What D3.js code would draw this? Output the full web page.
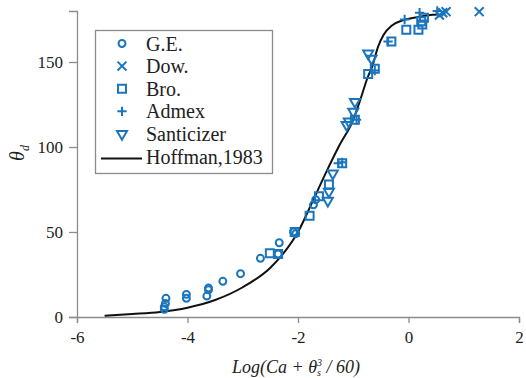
<!DOCTYPE html>
<html>
<head>
<meta charset="utf-8">
<script src="https://cdn.jsdelivr.net/npm/d3@7"></script>
<style>
  body { margin: 0; background: #fff; }
  svg { display: block; font-family: "Liberation Serif", "Times New Roman", serif; }
  svg text { font-family: "Liberation Serif", "Times New Roman", serif; }
</style>
</head>
<body>
<div id="chart"></div>
<script>
// data
const geX = [-4.42, -4.42, -4.40, -4.39, -4.02, -4.02, -3.65, -3.62, -3.62, -3.36, -3.04, -2.68, -2.34, -2.36, -2.04, -2.08, -1.72, -1.68];
const geY = [4.5, 6, 8, 11, 11, 13.3, 12.3, 16, 17, 21, 25.5, 34.5, 43.7, 37, 49, 50, 66, 69];

const dowX = [0.56, 0.62, 0.68, 1.28];
const dowY = [177.6, 179, 179.6, 179.6];

const broX = [-2.51, -2.36, -2.06, -1.79, -1.62, -1.44, -1.20, -0.97, -0.73, -0.61, -0.31, -0.04, 0.18, 0.23, 0.28, 0.25];
const broY = [37.5, 37, 50, 59.6, 71, 78, 90.4, 116, 143, 146, 162, 169, 169, 174, 176, 172];

const admX = [-1.27, -1.20, -0.94, -0.61, -0.37, -0.07, 0.20, 0.52];
const admY = [90.4, 91, 116, 145, 162, 175, 179, 180];

const sanX = [-1.46, -1.44, -1.37, -1.12, -1.08, -1.00, -0.97, -0.73, -0.67];
const sanY = [68.4, 73.7, 84.5, 113, 115, 120.8, 126.6, 155, 152];

const hoffX = [-5.5, -5.0, -4.5, -4.0, -3.5, -3.0, -2.5, -2.25, -2.0, -1.75, -1.5, -1.25, -1.0, -0.85, -0.75, -0.65, -0.55, -0.45, -0.3, -0.1, 0.1, 0.3, 0.5, 0.55];
const hoffY = [0.8, 1.8, 3, 5.5, 10, 17.5, 29, 38, 50, 67, 84.5, 101, 116, 130, 140, 148, 159, 166, 171.5, 174.5, 176, 177.2, 178, 178.2];

const xTicks = [-6, -4, -2, 0, 2];
const yTicks = [0, 50, 100, 150];
const legendNames = ["G.E.", "Dow.", "Bro.", "Admex", "Santicizer", "Hoffman,1983"];

const width = 526, height = 378;
const margin = { top: 11, right: 7, bottom: 61, left: 77 };
const blue = "#1b75bc";
const axisGray = "#8c8c8c";
const serif = '"Liberation Serif", "Times New Roman", serif';

const svg = d3.select("#chart").append("svg")
  .attr("width", width)
  .attr("height", height);

const x = d3.scaleLinear().domain([-6, 2]).range([margin.left, width - margin.right]);
const y = d3.scaleLinear().domain([0, 180]).range([height - margin.bottom, margin.top]);

// axes
const xAxis = svg.append("g")
  .attr("transform", `translate(0,${y(0)})`)
  .call(d3.axisBottom(x).tickValues(xTicks).tickFormat(d => d < 0 ? "-" + Math.abs(d) : String(d)).tickSizeOuter(0).tickSize(6).tickPadding(8));
const yAxis = svg.append("g")
  .attr("transform", `translate(${x(-6)},0)`)
  .call(d3.axisLeft(y).tickValues(yTicks).tickSizeOuter(0).tickSize(8).tickPadding(6));

[xAxis, yAxis].forEach(g => {
  g.attr("font-family", null).style("font-family", serif);
  g.select(".domain").attr("stroke", axisGray).attr("stroke-width", 1.3);
  g.selectAll(".tick line").attr("stroke", axisGray).attr("stroke-width", 1.3);
  g.selectAll(".tick text")
    .attr("fill", "#222")
    .style("font-family", serif)
    .attr("font-size", 17);
});

// axis titles
const xt = svg.append("text")
  .attr("x", 296).attr("y", 373)
  .attr("text-anchor", "middle")
  .attr("font-style", "italic")
  .attr("font-size", 18)
  .attr("fill", "#222");
xt.append("tspan").text("Log(Ca + θ");
xt.append("tspan").attr("font-size", 10).attr("dy", 3).text("s");
xt.append("tspan").attr("font-size", 10).attr("dx", -4).attr("dy", -10).text("3");
xt.append("tspan").attr("dy", 7).text(" / 60)");

const yt = svg.append("text")
  .attr("transform", "translate(24,153) rotate(-90)")
  .attr("text-anchor", "middle")
  .attr("font-style", "italic")
  .attr("font-size", 20)
  .attr("fill", "#222");
yt.append("tspan").text("θ");
yt.append("tspan").attr("font-size", 12).attr("dy", 5).text("d");

// Hoffman curve
const line = d3.line()
  .x((d, i) => x(hoffX[i]))
  .y((d, i) => y(hoffY[i]))
  .curve(d3.curveMonotoneX);
svg.append("path")
  .attr("d", line(hoffX))
  .attr("fill", "none")
  .attr("stroke", "#111")
  .attr("stroke-width", 2);

// marker shapes
const shapes = [
  { xs: geX, ys: geY, sym: d3.symbol(d3.symbolCircle, 38), rot: 0 },
  { xs: dowX, ys: dowY, sym: d3.symbol(d3.symbolTimes, 54), rot: 0 },
  { xs: broX, ys: broY, sym: d3.symbol(d3.symbolSquare2, 81), rot: 0 },
  { xs: admX, ys: admY, sym: d3.symbol(d3.symbolPlus, 30), rot: 0 },
  { xs: sanX, ys: sanY, sym: d3.symbol(d3.symbolTriangle2, 72), rot: 180 }
];

shapes.forEach(s => {
  svg.append("g").selectAll("path")
    .data(s.xs)
    .enter().append("path")
    .attr("d", s.sym())
    .attr("transform", (d, i) => `translate(${x(d)},${y(s.ys[i])}) rotate(${s.rot})`)
    .attr("fill", "none")
    .attr("stroke", blue)
    .attr("stroke-width", 2);
});

// legend
const legend = svg.append("g");
legend.append("rect")
  .attr("x", 95.5).attr("y", 30.5)
  .attr("width", 177).attr("height", 143)
  .attr("fill", "#fff")
  .attr("stroke", axisGray)
  .attr("stroke-width", 1.3);

const rowY = d3.scalePoint().domain(legendNames).range([43.5, 156.5]);

legendNames.forEach((name, i) => {
  const cy = rowY(name);
  if (i < shapes.length) {
    legend.append("path")
      .attr("d", shapes[i].sym())
      .attr("transform", `translate(122,${cy}) rotate(${shapes[i].rot})`)
      .attr("fill", "none")
      .attr("stroke", blue)
      .attr("stroke-width", 2);
  } else {
    legend.append("line")
      .attr("x1", 101).attr("x2", 142)
      .attr("y1", cy + 2).attr("y2", cy + 2)
      .attr("stroke", "#111")
      .attr("stroke-width", 2);
  }
  legend.append("text")
    .attr("x", 146).attr("y", cy + 7)
    .attr("font-size", 20)
    .attr("fill", "#222")
    .text(name);
});
</script>
</body>
</html>
